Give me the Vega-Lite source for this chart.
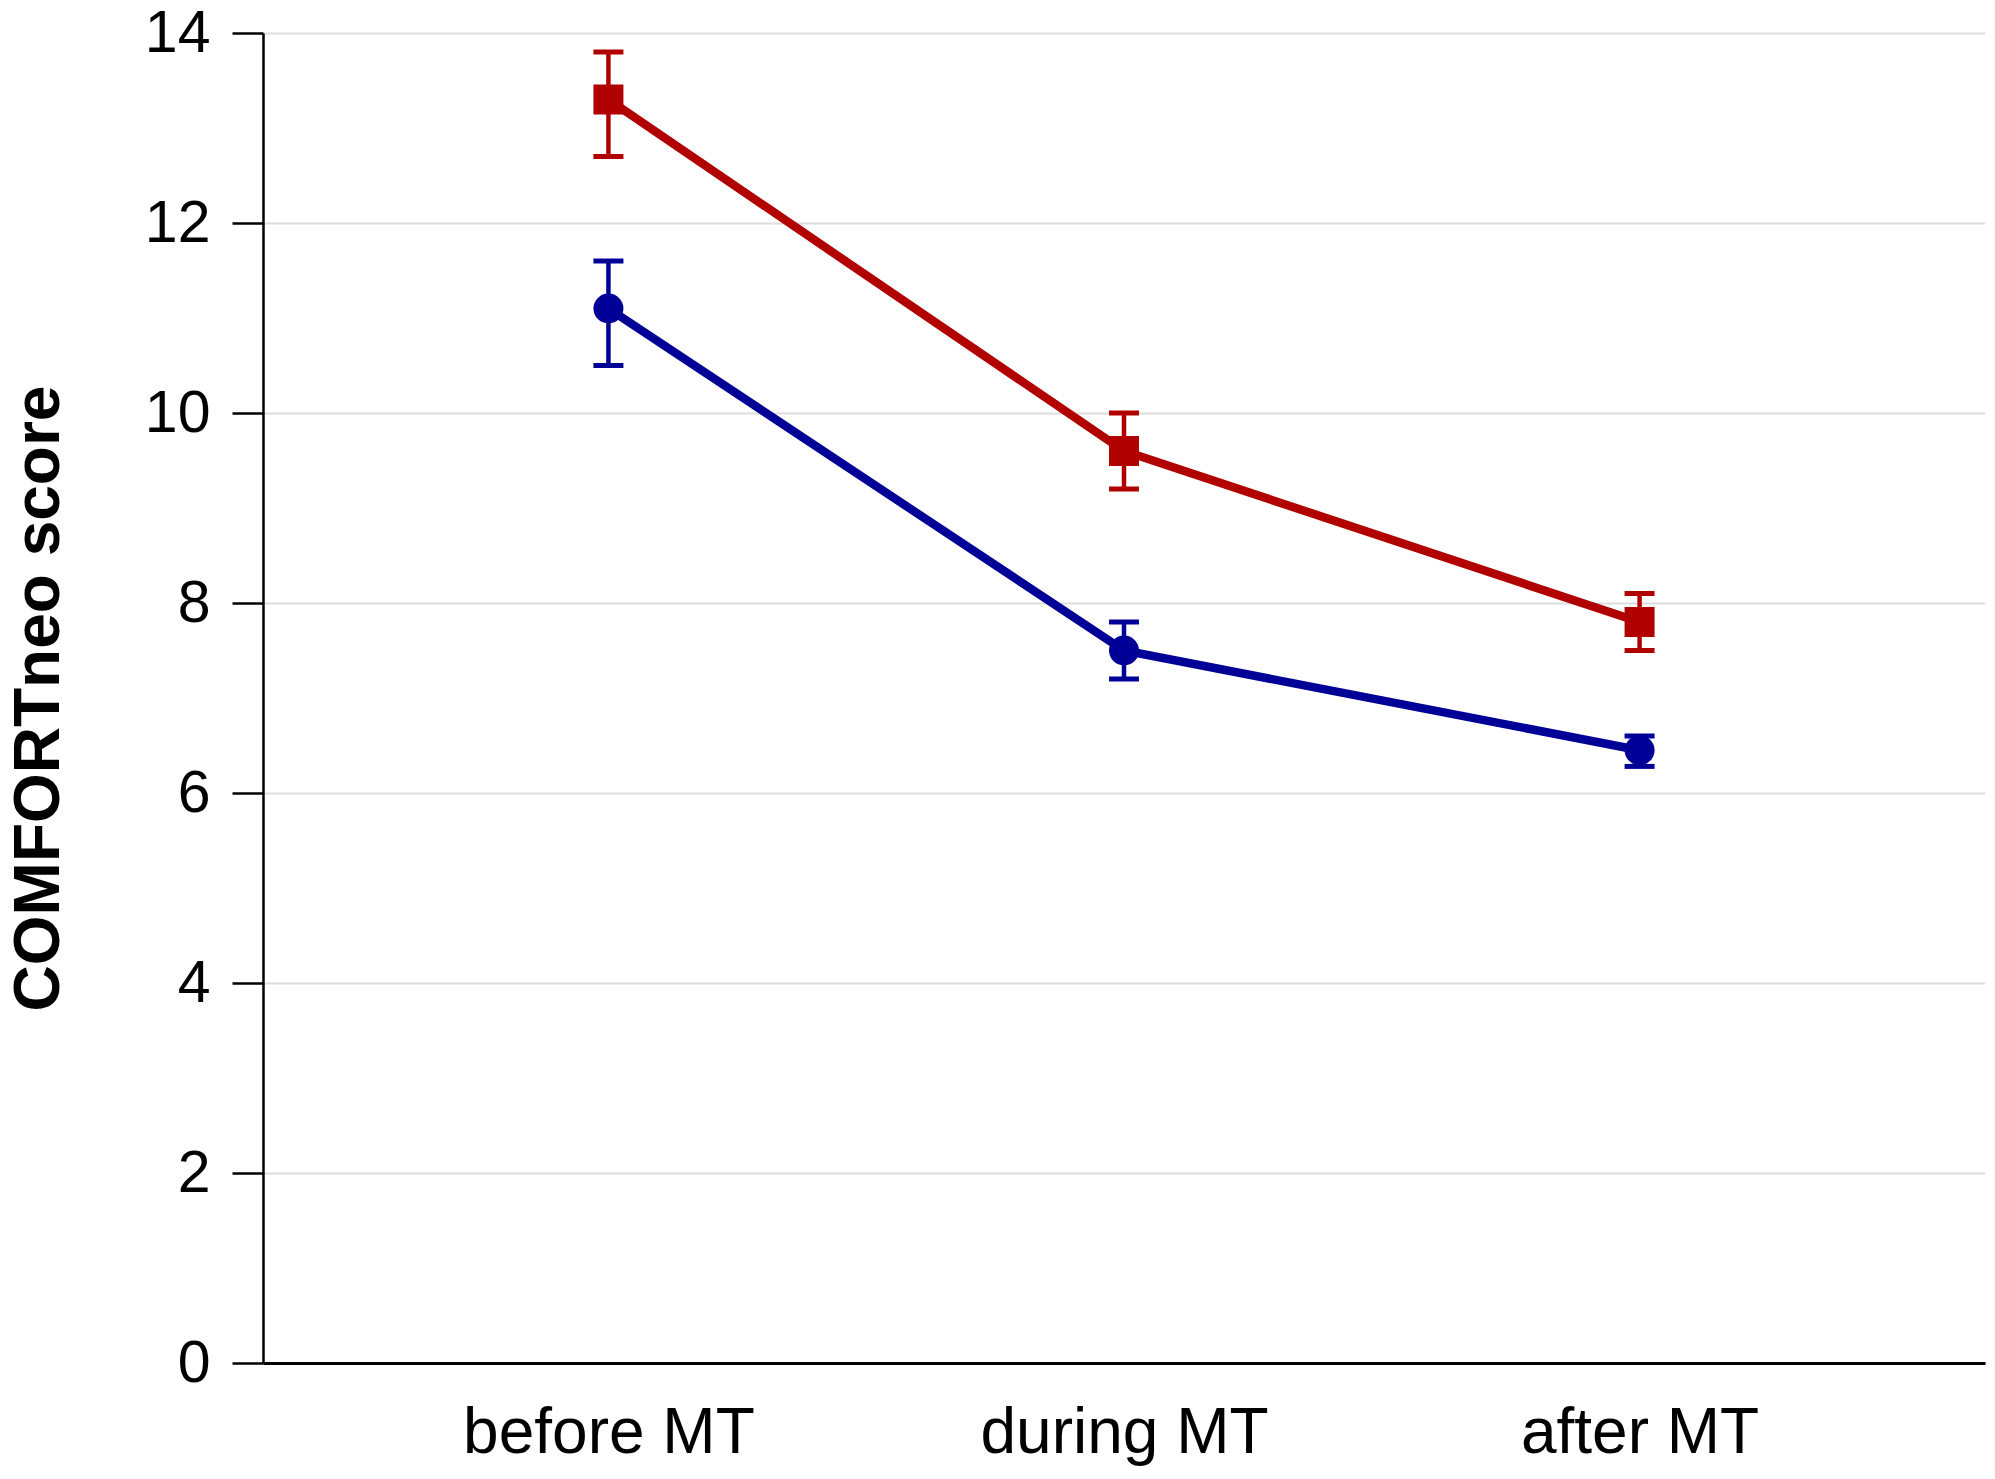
{
  "$schema": "https://vega.github.io/schema/vega-lite/v6.json",
  "width": 1722,
  "height": 1330,
  "autosize": {"type": "none"},
  "padding": {"left": 263, "top": 33, "right": 10, "bottom": 116},
  "background": "white",
  "config": {
    "view": {"stroke": null},
    "font": "Liberation Sans"
  },
  "data": {
    "values": [
      {"phase": "before MT", "group": "A", "mean": 13.3, "low": 12.7, "high": 13.8},
      {"phase": "during MT", "group": "A", "mean": 9.6, "low": 9.2, "high": 10.0},
      {"phase": "after MT", "group": "A", "mean": 7.8, "low": 7.5, "high": 8.1},
      {"phase": "before MT", "group": "B", "mean": 11.1, "low": 10.5, "high": 11.6},
      {"phase": "during MT", "group": "B", "mean": 7.5, "low": 7.2, "high": 7.8},
      {"phase": "after MT", "group": "B", "mean": 6.45, "low": 6.28, "high": 6.6}
    ]
  },
  "encoding": {
    "x": {
      "field": "phase",
      "type": "nominal",
      "sort": ["before MT", "during MT", "after MT"],
      "scale": {"type": "point", "padding": 0.67},
      "axis": {
        "title": null,
        "labelAngle": 0,
        "labelFontSize": 64,
        "labelColor": "black",
        "labelPadding": 38,
        "labelLimit": 800,
        "ticks": false,
        "grid": false,
        "domainColor": "black",
        "domainWidth": 3
      }
    },
    "color": {
      "field": "group",
      "type": "nominal",
      "scale": {"domain": ["A", "B"], "range": ["#b10000", "#000097"]},
      "legend": null
    }
  },
  "layer": [
    {
      "mark": {"type": "rule", "strokeWidth": 4.5, "opacity": 1},
      "encoding": {
        "y": {
          "field": "low",
          "type": "quantitative",
          "scale": {"domain": [0, 14]},
          "axis": {
            "values": [0, 2, 4, 6, 8, 10, 12, 14],
            "format": "d",
            "title": "COMFORTneo score",
            "titleFontSize": 64,
            "titleFontWeight": "bold",
            "titleColor": "black",
            "titleBaseline": "alphabetic",
            "titleX": -205,
            "labelFontSize": 59,
            "labelColor": "black",
            "labelPadding": 22,
            "tickSize": 31,
            "tickWidth": 2.5,
            "tickColor": "black",
            "domainColor": "black",
            "domainWidth": 2.5,
            "grid": true,
            "gridColor": "#dddddd",
            "gridWidth": 2
          }
        },
        "y2": {"field": "high"}
      }
    },
    {
      "mark": {"type": "tick", "orient": "horizontal", "size": 30, "thickness": 5, "opacity": 1},
      "encoding": {"y": {"field": "low", "type": "quantitative"}}
    },
    {
      "mark": {"type": "tick", "orient": "horizontal", "size": 30, "thickness": 5, "opacity": 1},
      "encoding": {"y": {"field": "high", "type": "quantitative"}}
    },
    {
      "mark": {"type": "line", "strokeWidth": 8.5},
      "encoding": {"y": {"field": "mean", "type": "quantitative"}}
    },
    {
      "mark": {"type": "point", "filled": true, "opacity": 1, "size": 900},
      "encoding": {
        "y": {"field": "mean", "type": "quantitative"},
        "shape": {
          "field": "group",
          "type": "nominal",
          "scale": {"domain": ["A", "B"], "range": ["square", "circle"]},
          "legend": null
        }
      }
    }
  ]
}
